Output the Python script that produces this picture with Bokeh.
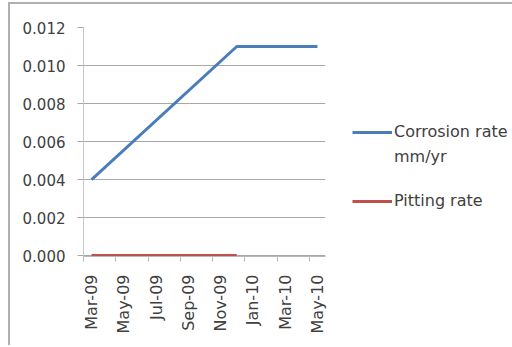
from bokeh.plotting import figure
from bokeh.models import (ColumnDataSource, FixedTicker, NumeralTickFormatter,
                          Legend, LegendItem, Range1d)
from bokeh.embed import file_html
from bokeh.resources import INLINE

# Monthly category slots on the x axis
months = ["Mar-09", "Apr-09", "May-09", "Jun-09", "Jul-09", "Aug-09", "Sep-09",
          "Oct-09", "Nov-09", "Dec-09", "Jan-10", "Feb-10", "Mar-10", "Apr-10",
          "May-10"]

# Series values
corrosion_dates = ["Mar-09", "Dec-09", "May-10"]
corrosion_rate = [0.004, 0.011, 0.011]
pitting_dates = ["Mar-09", "Dec-09"]
pitting_rate = [0.0, 0.0]

# Axis tick labels
y_ticks = [0.000, 0.002, 0.004, 0.006, 0.008, 0.010, 0.012]
x_tick_labels = ["Mar-09", "May-09", "Jul-09", "Sep-09", "Nov-09", "Jan-10",
                 "Mar-10", "May-10"]

idx = {m: i for i, m in enumerate(months)}
corr_src = ColumnDataSource(dict(x=[idx[d] for d in corrosion_dates], y=corrosion_rate))
pit_src = ColumnDataSource(dict(x=[idx[d] for d in pitting_dates], y=pitting_rate))

FONT = "DejaVu Sans"
TEXT = "#404040"
GRID = "#a8a8a8"

p = figure(frame_width=242, frame_height=229, output_backend="svg",
           toolbar_location=None,
           x_range=Range1d(-0.5, len(months) - 0.5), y_range=Range1d(-0.00005, 0.012),
           min_border_left=73, min_border_right=185, min_border_top=23,
           min_border_bottom=89)
p.styles = {"margin-left": "8px", "margin-top": "2px",
            "border-top": "2px solid #b0b0b0", "border-left": "2px solid #b0b0b0"}
p.outline_line_color = None
p.background_fill_color = "white"
p.border_fill_color = "white"

# horizontal grid only
p.xgrid.visible = False
p.ygrid.grid_line_color = GRID
p.ygrid.grid_line_width = 1.2

# y axis
p.yaxis.ticker = FixedTicker(ticks=y_ticks)
p.yaxis.formatter = NumeralTickFormatter(format="0.000")
p.yaxis.axis_line_color = "#c8c8c8"
p.yaxis.major_tick_line_color = GRID
p.yaxis.major_tick_out = 6
p.yaxis.major_tick_in = 0
p.yaxis.minor_tick_line_color = None
p.yaxis.major_label_standoff = 12
p.yaxis.major_label_text_font = FONT
p.yaxis.major_label_text_font_size = "15px"
p.yaxis.major_label_text_color = TEXT

# x axis: labels at month centres, tick marks on two-month boundaries
label_pos = [idx[m] for m in x_tick_labels]
bounds = [i - 0.5 for i in label_pos]
p.xaxis.ticker = FixedTicker(ticks=label_pos, minor_ticks=bounds)
p.xaxis.major_label_overrides = {i: m for i, m in zip(label_pos, x_tick_labels)}
p.xaxis.major_label_orientation = 1.5708
p.xaxis.axis_line_color = "#b8b8b8"
p.xaxis.major_tick_line_color = None
p.xaxis.minor_tick_line_color = "#b8b8b8"
p.xaxis.minor_tick_out = 5
p.xaxis.minor_tick_in = 0
p.xaxis.major_tick_out = 0
p.xaxis.major_label_standoff = 13
p.xaxis.major_label_text_font = FONT
p.xaxis.major_label_text_font_size = "16px"
p.xaxis.major_label_text_color = TEXT

r_pit = p.line("x", "y", source=pit_src, line_color="#c0504d", line_width=3)
r_corr = p.line("x", "y", source=corr_src, line_color="#4a7ebb", line_width=3)

# the unit sits on its own line under the series name; a blank second line
# gives it the extra room before the next entry
legend = Legend(items=[LegendItem(label="Corrosion rate", renderers=[r_corr]),
                       LegendItem(label="mm/yr\n\u00a0", renderers=[]),
                       LegendItem(label="Pitting rate", renderers=[r_pit])],
                location=(27, 46))
legend.border_line_color = None
legend.background_fill_alpha = 0
legend.padding = 0
legend.margin = 0
legend.glyph_width = 40
legend.glyph_height = 10
legend.label_height = 10
legend.label_standoff = 2
legend.spacing = 6
legend.label_text_font = FONT
legend.label_text_font_size = "16px"
legend.label_text_color = TEXT
p.add_layout(legend, "right")

open("out.html", "w").write(file_html(p, INLINE))
